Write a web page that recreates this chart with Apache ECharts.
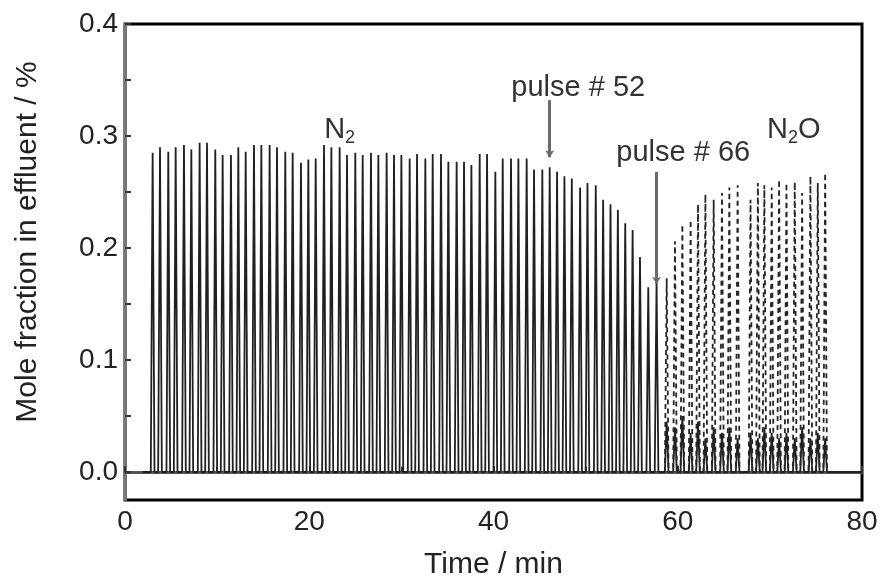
<!DOCTYPE html>
<html>
<head>
<meta charset="utf-8">
<script src="https://cdn.jsdelivr.net/npm/echarts@6/dist/echarts.min.js"></script>
<style>
html,body{margin:0;padding:0;background:#fff;}
#chart{width:884px;height:585px;}
</style>
</head>
<body>
<div id="chart"></div>
<script>
// N2 pulses (solid), time / min and peak mole fraction / %
var n2Times = [3.0, 3.8, 4.7, 5.5, 6.4, 7.2, 8.1, 8.9, 9.8, 10.6, 11.5, 12.3, 13.1, 14.0, 14.8, 15.7, 16.5, 17.4, 18.2, 19.1,
	19.9, 20.7, 21.6, 22.4, 23.3, 24.1, 25.0, 25.8, 26.7, 27.5, 28.4, 29.2, 30.0, 30.9, 31.7, 32.6, 33.4, 34.3, 35.1, 36.0,
	36.8, 37.6, 38.5, 39.3, 40.2, 41.0, 41.9, 42.7, 43.6, 44.4, 45.3, 46.1, 46.9, 47.7, 48.5, 49.4, 50.2, 51.1, 51.9, 52.7,
	53.5, 54.3, 55.1, 55.9, 56.8, 57.7];
var n2Peaks = [0.285, 0.290, 0.286, 0.290, 0.292, 0.288, 0.294, 0.294, 0.288, 0.283, 0.283, 0.290, 0.286, 0.292, 0.292, 0.292, 0.290, 0.286, 0.285, 0.276,
	0.279, 0.280, 0.292, 0.290, 0.290, 0.283, 0.285, 0.283, 0.285, 0.283, 0.285, 0.283, 0.283, 0.280, 0.284, 0.280, 0.284, 0.284, 0.277, 0.277,
	0.277, 0.274, 0.284, 0.284, 0.268, 0.280, 0.280, 0.280, 0.280, 0.270, 0.270, 0.272, 0.268, 0.264, 0.262, 0.254, 0.258, 0.256, 0.243, 0.239,
	0.234, 0.222, 0.216, 0.192, 0.165, 0.170];

// N2O pulses (dashed)
var n2oTimes = [58.8, 59.7, 60.5, 61.4, 62.2, 63.0, 63.9, 64.8, 65.6, 66.5,
	67.9, 68.7, 69.4, 70.2, 71.0, 71.8, 72.7, 73.5, 74.4, 75.2, 76.0];
var n2oPeaks = [0.173, 0.206, 0.221, 0.225, 0.239, 0.248, 0.243, 0.249, 0.254, 0.256,
	0.243, 0.258, 0.256, 0.254, 0.261, 0.258, 0.259, 0.249, 0.264, 0.258, 0.267];
// small N2 signal left during the N2O pulses
var n2TailPeaks = [0.045, 0.040, 0.050, 0.035, 0.045, 0.030, 0.040, 0.035, 0.040, 0.030,
	0.035, 0.030, 0.040, 0.035, 0.030, 0.035, 0.030, 0.040, 0.030, 0.035, 0.030];

var xStart = 1.9, xEnd = 80;
var yTicks = [0, 0.05, 0.1, 0.15, 0.2, 0.25, 0.3, 0.35, 0.4];
var yLabels = [0, 0.1, 0.2, 0.3, 0.4];

// arrows: pulse #52 and pulse #66
var arrowPulse = [52, 66];
var arrowTop = [0.332, 0.268];
var arrowTip = [0.281, 0.168];

function spikes(times, peaks, w) {
	var d = [];
	for (var i = 0; i < times.length; i++) {
		d.push([times[i] - w, 0], [times[i], peaks[i]], [times[i] + w, 0]);
	}
	return d;
}

var n2Data = [[xStart, 0]].concat(spikes(n2Times, n2Peaks, 0.2), spikes(n2oTimes, n2TailPeaks, 0.2), [[xEnd, 0]]);
var n2oData = spikes(n2oTimes, n2oPeaks, 0.2);

var arrows = [];
for (var i = 0; i < arrowPulse.length; i++) {
	var t = n2Times[arrowPulse[i] - 1];
	arrows.push([{coord: [t, arrowTop[i]]}, {coord: [t, arrowTip[i]]}]);
}

var font = "'Liberation Sans', Arial, sans-serif";
var myChart = echarts.init(document.getElementById('chart'));
myChart.setOption({
	animation: false,
	grid: {left: 125, right: 22, top: 24, bottom: 85, show: true, borderColor: '#000', borderWidth: 3},
	xAxis: {
		type: 'value', min: 0, max: 80, interval: 20,
		name: 'Time / min', nameLocation: 'middle', nameGap: 50,
		nameTextStyle: {fontFamily: font, fontSize: 30, color: '#222'},
		axisLine: {lineStyle: {color: '#555', width: 3}},
		axisTick: {inside: true, length: 6, lineStyle: {color: '#333', width: 2}},
		minorTick: {show: true, splitNumber: 2, length: 5, lineStyle: {color: '#333', width: 2}},
		axisLabel: {fontFamily: font, fontSize: 28, color: '#222', margin: 8},
		splitLine: {show: false}
	},
	yAxis: {
		type: 'value', min: -0.025, max: 0.4,
		name: 'Mole fraction in effluent / %', nameLocation: 'middle', nameGap: 82,
		nameTextStyle: {fontFamily: font, fontSize: 30, color: '#222', padding: [0, 0, 0, 40]},
		axisLine: {lineStyle: {color: '#777', width: 3}},
		axisTick: {inside: true, length: 6, customValues: yTicks, lineStyle: {color: '#333', width: 2}},
		axisLabel: {fontFamily: font, fontSize: 28, color: '#222', margin: 7, customValues: yLabels,
			formatter: function (v) { return v.toFixed(1); }},
		splitLine: {show: false}
	},
	series: [{
		name: 'N2', type: 'line', data: n2Data, showSymbol: false, z: 2,
		lineStyle: {color: '#202020', width: 1.8},
		markLine: {
			silent: true, symbol: ['none', 'arrow'], symbolSize: [7, 7],
			label: {show: false},
			lineStyle: {color: '#6a6a6a', width: 3, type: 'solid'},
			data: arrows
		},
		markPoint: {
			symbol: 'rect', symbolSize: 1, itemStyle: {color: 'transparent'},
			label: {
				show: true, position: 'inside', fontFamily: font, fontSize: 29, color: '#333',
				formatter: function (p) { return p.name; },
				rich: {
					a: {fontFamily: font, fontSize: 29, color: '#333'},
					s: {fontFamily: font, fontSize: 18, color: '#333', padding: [16, 0, 0, 0]}
				}
			},
			data: [
				{name: 'pulse # 52', coord: [49.2, 0.343]},
				{name: 'pulse # 66', coord: [60.6, 0.285]},
				{name: '{a|N}{s|2}', coord: [23.3, 0.305]},
				{name: '{a|N}{s|2}{a|O}', coord: [72.6, 0.305]}
			]
		}
	}, {
		name: 'N2O', type: 'line', data: n2oData, showSymbol: false, z: 3,
		lineStyle: {color: '#262626', width: 1.8, type: [5, 4]}
	}]
});
</script>
</body>
</html>
